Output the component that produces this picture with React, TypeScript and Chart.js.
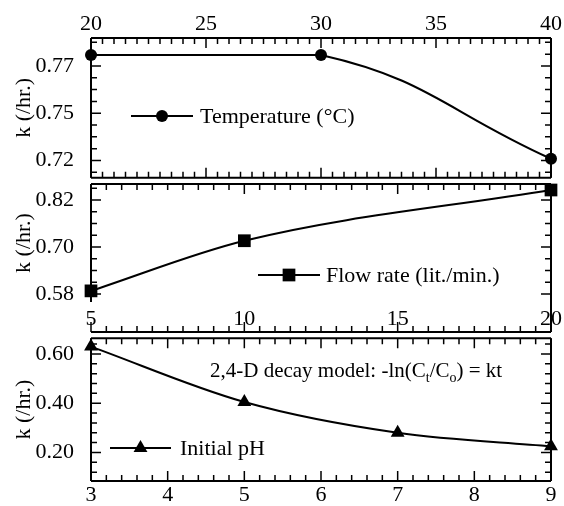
import React, { useEffect, useRef } from "react";
import { Chart, registerables } from "chart.js";
Chart.register(...registerables);

// ---------- data ----------
const tempX = [20, 30, 40];
const tempK = [0.7783, 0.7783, 0.7234];
const flowX = [5, 10, 20];
const flowK = [0.588, 0.716, 0.8455];
const phX = [3, 5, 7, 9];
const phK = [0.63, 0.405, 0.28, 0.225];

const tempXTicks = [20, 25, 30, 35, 40];
const flowXTicks = [5, 10, 15, 20];
const phXTicks = [3, 4, 5, 6, 7, 8, 9];

const tempYTicks = [0.7225, 0.7475, 0.7725];
const tempYLabels = ["0.72", "0.75", "0.77"];
const flowYTicks = [0.58, 0.7, 0.82];
const flowYLabels = ["0.58", "0.70", "0.82"];
const phYTicks = [0.2, 0.4, 0.6];
const phYLabels = ["0.20", "0.40", "0.60"];

const FONT = '"Liberation Serif", "Times New Roman", serif';
const FS = 22;

function drawMarker(ctx: CanvasRenderingContext2D, style: string, x: number, y: number, r: number) {
  ctx.beginPath();
  if (style === "circle") {
    ctx.arc(x, y, r, 0, Math.PI * 2);
  } else if (style === "rect") {
    const s = Math.SQRT1_2 * r;
    ctx.rect(x - s, y - s, 2 * s, 2 * s);
  } else {
    ctx.moveTo(x, y - r);
    ctx.lineTo(x + Math.sin((2 * Math.PI) / 3) * r, y - Math.cos((2 * Math.PI) / 3) * r);
    ctx.lineTo(x + Math.sin((4 * Math.PI) / 3) * r, y - Math.cos((4 * Math.PI) / 3) * r);
    ctx.closePath();
  }
  ctx.fill();
}

function tickList(min: number, max: number, base: number, major: number, div: number) {
  const minor = major / div;
  const out: { v: number; major: boolean }[] = [];
  const k0 = Math.ceil((min - base) / minor - 1e-6);
  const k1 = Math.floor((max - base) / minor + 1e-6);
  for (let k = k0; k <= k1; k++) {
    out.push({ v: base + k * minor, major: ((k % div) + div) % div === 0 });
  }
  return out;
}

const framePlugin = {
  id: "frame",
  beforeDatasetsDraw(chart: any, _a: any, o: any) {
    const { ctx, chartArea: a, scales } = chart;
    const x = scales.x;
    const y = scales.y;
    const MAJ = 10;
    const MIN = 6;
    ctx.save();
    ctx.strokeStyle = "#000";
    ctx.lineWidth = 1.5;
    ctx.beginPath();
    for (const t of tickList(x.min, x.max, o.xBase, o.xMajor, o.xDiv)) {
      const px = x.getPixelForValue(t.v);
      const L = t.major ? MAJ : MIN;
      ctx.moveTo(px, a.top);
      ctx.lineTo(px, a.top + L);
      if (o.bottomTicks) {
        ctx.moveTo(px, a.bottom);
        ctx.lineTo(px, a.bottom - L);
      }
      if (o.extraGap) {
        const ye = a.bottom + o.extraGap;
        ctx.moveTo(px, ye);
        ctx.lineTo(px, ye - L);
      }
    }
    for (const t of tickList(y.min, y.max, o.yBase, o.yMajor, o.yDiv)) {
      const py = y.getPixelForValue(t.v);
      const L = t.major ? MAJ : MIN;
      ctx.moveTo(a.left, py);
      ctx.lineTo(a.left + L, py);
      ctx.moveTo(a.right, py);
      ctx.lineTo(a.right - L, py);
    }
    ctx.stroke();
    ctx.lineWidth = 2;
    ctx.beginPath();
    ctx.moveTo(a.left, a.top);
    ctx.lineTo(a.right, a.top);
    ctx.moveTo(a.left, a.top);
    ctx.lineTo(a.left, a.bottom);
    const rb = o.extraGap ? a.bottom + o.extraGap : a.bottom;
    ctx.moveTo(a.right, a.top);
    ctx.lineTo(a.right, rb);
    if (o.bottomFrame) {
      ctx.moveTo(a.left, a.bottom);
      ctx.lineTo(a.right, a.bottom);
    }
    if (o.extraGap) {
      ctx.moveTo(a.left, rb);
      ctx.lineTo(a.right, rb);
    }
    ctx.stroke();
    ctx.restore();
  },
  afterDatasetsDraw(chart: any, _a: any, o: any) {
    const { ctx } = chart;
    const off = o.top;
    ctx.save();
    ctx.fillStyle = "#000";
    ctx.strokeStyle = "#000";
    if (o.legend) {
      const l = o.legend;
      ctx.lineWidth = 2;
      ctx.beginPath();
      ctx.moveTo(l.x1, l.y - off);
      ctx.lineTo(l.x2, l.y - off);
      ctx.stroke();
      drawMarker(ctx, l.marker, (l.x1 + l.x2) / 2, l.y - off, l.r);
      ctx.font = `${FS}px ${FONT}`;
      ctx.textBaseline = "middle";
      ctx.textAlign = "left";
      ctx.fillText(l.text, l.tx, l.y - off + 1);
    }
    if (o.note) {
      const n = o.note;
      const big = `21px ${FONT}`;
      const small = `14px ${FONT}`;
      const parts: [string, boolean][] = [
        ["2,4-D decay model: -ln(C", false],
        ["t", true],
        ["/C", false],
        ["o", true],
        [") = kt", false],
      ];
      ctx.textBaseline = "alphabetic";
      ctx.textAlign = "left";
      let cx = n.x;
      const by = n.y - off;
      for (const [s, sub] of parts) {
        ctx.font = sub ? small : big;
        ctx.fillText(s, cx, sub ? by + 5 : by);
        cx += ctx.measureText(s).width;
      }
    }
    ctx.restore();
  },
};

type Panel = {
  canvasTop: number;
  canvasH: number;
  areaTop: number;
  areaBottom: number;
  xPos: "top" | "bottom";
  xMin: number;
  xMax: number;
  xTicks: number[];
  xPad: number;
  yMin: number;
  yMax: number;
  yTicks: number[];
  yLabels: string[];
  xs: number[];
  ys: number[];
  pointStyle: string;
  pointRadius: number;
  straightSegs?: number[];
  tension?: number;
  frame: any;
};

const LEFT = 91;
const RIGHT = 551;
const W = 564;

function build(canvas: HTMLCanvasElement, p: Panel) {
  const top = p.areaTop - p.canvasTop;
  const bottom = p.areaBottom - p.canvasTop;
  let padTop = 0;
  let padBottom = 0;
  let xH = 0;
  if (p.xPos === "top") {
    xH = top;
    padBottom = p.canvasH - bottom;
  } else {
    padTop = top;
    xH = p.canvasH - bottom;
  }
  const pts = p.xs.map((x, i) => ({ x, y: p.ys[i] }));
  const base = {
    borderColor: "#000",
    backgroundColor: "#000",
    borderWidth: 2,
    pointBorderWidth: 0,
    pointBackgroundColor: "#000",
    clip: false as any,
  };
  const datasets: any[] = [];
  if (p.straightSegs) {
    const ss = p.straightSegs;
    datasets.push({
      ...base,
      data: pts,
      tension: 0,
      pointStyle: p.pointStyle,
      pointRadius: p.pointRadius,
      segment: { borderColor: (c: any) => (ss.includes(c.p0DataIndex) ? "#000" : "rgba(0,0,0,0)") },
    });
    datasets.push({
      ...base,
      data: pts,
      tension: p.tension,
      pointRadius: 0,
      segment: { borderColor: (c: any) => (ss.includes(c.p0DataIndex) ? "rgba(0,0,0,0)" : "#000") },
    });
  } else {
    datasets.push({
      ...base,
      data: pts,
      pointStyle: p.pointStyle,
      pointRadius: p.pointRadius,
      cubicInterpolationMode: "monotone",
    });
  }
  return new Chart(canvas, {
    type: "line",
    data: { datasets },
    options: {
      responsive: false,
      animation: false,
      devicePixelRatio: 1,
      layout: { padding: { left: 0, right: W - RIGHT, top: padTop, bottom: padBottom } },
      plugins: {
        legend: { display: false },
        tooltip: { enabled: false },
        frame: { ...p.frame, top: p.canvasTop },
      } as any,
      scales: {
        x: {
          type: "linear",
          position: p.xPos,
          min: p.xMin,
          max: p.xMax,
          grid: { display: false },
          border: { display: false },
          afterBuildTicks: (s: any) => {
            s.ticks = p.xTicks.map((v) => ({ value: v }));
          },
          afterFit: (s: any) => {
            s.height = xH;
          },
          ticks: {
            color: "#000",
            font: { family: FONT, size: FS },
            padding: p.xPad,
            maxRotation: 0,
            autoSkip: false,
            callback: (v: any) => String(v),
          },
        },
        y: {
          type: "linear",
          min: p.yMin,
          max: p.yMax,
          grid: { display: false },
          border: { display: false },
          afterBuildTicks: (s: any) => {
            s.ticks = p.yTicks.map((v) => ({ value: v }));
          },
          afterFit: (s: any) => {
            s.width = LEFT;
          },
          ticks: {
            color: "#000",
            font: { family: FONT, size: FS },
            padding: 9,
            autoSkip: false,
            callback: (_v: any, i: number) => p.yLabels[i],
          },
          title: {
            display: true,
            text: "k (/hr.)",
            color: "#000",
            font: { family: FONT, size: FS },
            padding: { top: 11, bottom: 0 },
          },
        },
      },
    },
    plugins: [framePlugin as any],
  });
}

const panels: Panel[] = [
  {
    canvasTop: 0,
    canvasH: 200,
    areaTop: 38,
    areaBottom: 183,
    xPos: "top",
    xMin: 20,
    xMax: 40,
    xTicks: tempXTicks,
    xPad: -7,
    yMin: 0.7225 - 18 / 1960,
    yMax: 0.7725 + 29 / 1960,
    yTicks: tempYTicks,
    yLabels: tempYLabels,
    xs: tempX,
    ys: tempK,
    pointStyle: "circle",
    pointRadius: 6,
    straightSegs: [0],
    tension: 0.45,
    frame: {
      xBase: 20, xMajor: 5, xDiv: 10,
      yBase: 0.7225, yMajor: 0.025, yDiv: 4,
      bottomTicks: true, bottomFrame: true,
      legend: { x1: 131, x2: 193, y: 116, r: 6, marker: "circle", tx: 200, text: "Temperature (°C)" },
    },
  },
  {
    canvasTop: 160,
    canvasH: 185,
    areaTop: 184,
    areaBottom: 302,
    xPos: "bottom",
    xMin: 5,
    xMax: 20,
    xTicks: flowXTicks,
    xPad: -4,
    yMin: 0.58 - 8 / 392,
    yMax: 0.82 + 16 / 392,
    yTicks: flowYTicks,
    yLabels: flowYLabels,
    xs: flowX,
    ys: flowK,
    pointStyle: "rect",
    pointRadius: 9,
    frame: {
      xBase: 5, xMajor: 5, xDiv: 10,
      yBase: 0.58, yMajor: 0.12, yDiv: 4,
      bottomTicks: false, bottomFrame: false, extraGap: 30,
      legend: { x1: 258, x2: 320, y: 275, r: 9, marker: "rect", tx: 326, text: "Flow rate (lit./min.)" },
    },
  },
  {
    canvasTop: 316,
    canvasH: 190,
    areaTop: 336,
    areaBottom: 481,
    xPos: "bottom",
    xMin: 3,
    xMax: 9,
    xTicks: phXTicks,
    xPad: -7,
    yMin: 0.2 - 29 / 250,
    yMax: 0.6 + 16 / 250,
    yTicks: phYTicks,
    yLabels: phYLabels,
    xs: phX,
    ys: phK,
    pointStyle: "triangle",
    pointRadius: 8,
    frame: {
      xBase: 3, xMajor: 1, xDiv: 5,
      yBase: 0.2, yMajor: 0.2, yDiv: 5,
      bottomTicks: true, bottomFrame: true,
      legend: { x1: 110, x2: 171, y: 448, r: 8, marker: "triangle", tx: 180, text: "Initial pH" },
      note: { x: 210, y: 377 },
    },
  },
];

export default function App() {
  const refs = [useRef<HTMLCanvasElement>(null), useRef<HTMLCanvasElement>(null), useRef<HTMLCanvasElement>(null)];
  useEffect(() => {
    const charts = panels.map((p, i) => build(refs[i].current as HTMLCanvasElement, p));
    return () => charts.forEach((c) => c.destroy());
  }, []);
  return (
    <div style={{ position: "absolute", left: 0, top: 0, width: W, height: 506, background: "#fff" }}>
      {panels.map((p, i) => (
        <canvas
          key={i}
          ref={refs[i]}
          width={W}
          height={p.canvasH}
          style={{ position: "absolute", left: 0, top: p.canvasTop, width: W, height: p.canvasH }}
        />
      ))}
    </div>
  );
}
